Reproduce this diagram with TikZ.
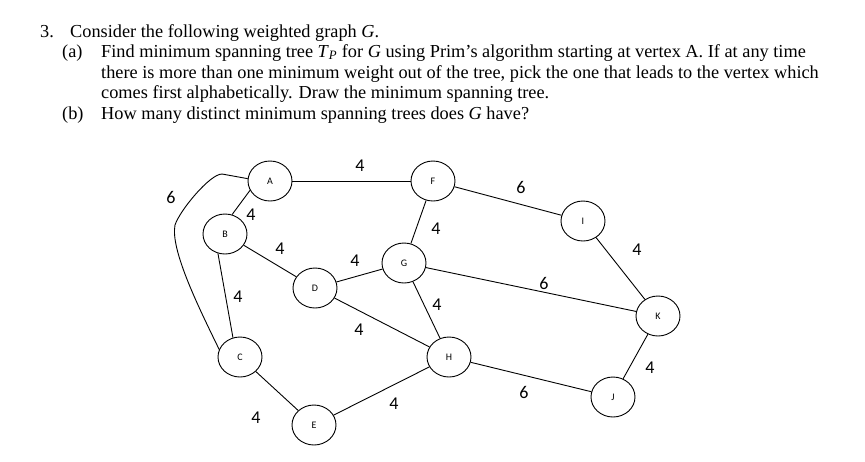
\documentclass[tikz,border=0pt]{standalone}
\usepackage{fontspec}
\setmainfont{Liberation Serif}
\newfontfamily\lblfont{Carlito}
\usetikzlibrary{shapes.geometric}
\tikzset{
  vtx/.style={draw, ellipse, minimum width=44pt, minimum height=40pt, inner sep=0pt, line width=0.9pt, font=\lblfont\fontsize{10}{10}\selectfont},
  edge/.style={line width=0.9pt},
  wt/.style={font=\lblfont\fontsize{18}{18}\selectfont, inner sep=0pt},
  txt/.style={anchor=base west, inner sep=0pt, font=\fontsize{18.3}{20}\selectfont}
}
\begin{document}
\begin{tikzpicture}[x=1pt,y=-1pt]
\useasboundingbox (0,0) rectangle (865,461);
% text
\node[txt] (t0) at (40,37) {3.};
\node[txt] (t1) at (70,37) {Consider the following weighted graph \textit{G}.};
\node[txt] (t2) at (62,57) {(a)};
\node[txt] (t3) at (101,57) {Find minimum spanning tree \textit{T}\textsubscript{\textit{P}} for \textit{G} using Prim’s algorithm starting at vertex A. If at any time};
\node[txt] (t4) at (101,78) {there is more than one minimum weight out of the tree, pick the one that leads to the vertex which};
\node[txt] (t5) at (101,98) {comes first alphabetically. Draw the minimum spanning tree.};
\node[txt] (t6) at (62,119) {(b)};
\node[txt] (t7) at (101,119) {How many distinct minimum spanning trees does \textit{G} have?};
% vertices
\node[vtx] (A) at (270,181) {A};
\node[vtx] (B) at (225,234) {B};
\node[vtx] (C) at (240,357) {C};
\node[vtx] (D) at (315,288) {D};
\node[vtx] (E) at (314,425) {E};
\node[vtx] (F) at (433,181) {F};
\node[vtx] (G) at (404,263) {G};
\node[vtx] (H) at (449,357) {H};
\node[vtx] (I) at (583,221) {I};
\node[vtx] (J) at (613,397) {J};
\node[vtx] (K) at (658,316) {K};
% edges
\draw[edge] (A) -- (F);
\draw[edge] (A.205) -- (B.70);
\draw[edge] (B) -- (D);
\draw[edge] (B.250) -- (C.110);
\draw[edge] (D) -- (G);
\draw[edge] (D) -- (H);
\draw[edge] (F) -- (G);
\draw[edge] (G) -- (H);
\draw[edge] (G) -- (K);
\draw[edge] (F) -- (I);
\draw[edge] (I) -- (K);
\draw[edge] (K) -- (J);
\draw[edge] (H) -- (J);
\draw[edge] (C) -- (E);
\draw[edge] (E) -- (H);
\draw[edge] (A.174) -- (222,174) .. controls (210,174) and (180,210) .. (175,225)
  .. controls (170,250) and (200,310) .. (C.160);
% weights
\node[wt] (wAF) at (360,166) {4};
\node[wt] (wAC) at (171,197) {6};
\node[wt] (wAB) at (251,215) {4};
\node[wt] (wBD) at (280,249) {4};
\node[wt] (wDG) at (355,261) {4};
\node[wt] (wFG) at (436,229) {4};
\node[wt] (wBC) at (238,297) {4};
\node[wt] (wGH) at (437,305) {4};
\node[wt] (wDH) at (359,330) {4};
\node[wt] (wCE) at (256,418) {4};
\node[wt] (wEH) at (394,404) {4};
\node[wt] (wFI) at (521,187) {6};
\node[wt] (wIK) at (637,250) {4};
\node[wt] (wGK) at (544,283) {6};
\node[wt] (wKJ) at (650,368) {4};
\node[wt] (wHJ) at (524,392) {6};
\end{tikzpicture}
\end{document}
